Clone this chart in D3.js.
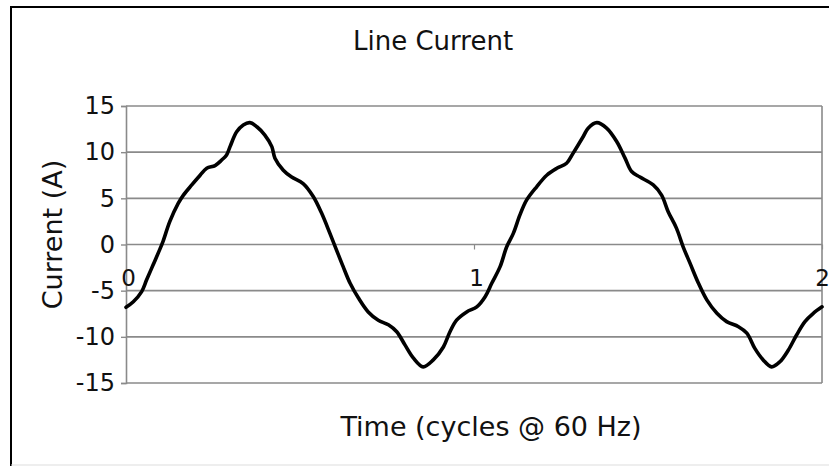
<!DOCTYPE html>
<html>
<head>
<meta charset="utf-8">
<script src="https://cdn.jsdelivr.net/npm/d3@7"></script>
<style>
  html, body { margin: 0; padding: 0; background: #fff; }
  svg { display: block; }
  text { font-family: "DejaVu Sans", Verdana, sans-serif; fill: #111; }
</style>
</head>
<body>
<svg id="chart" width="829" height="466"></svg>
<script>
// Line current over two cycles at 60 Hz
const time = [
  0.000, 0.021, 0.045, 0.059, 0.078, 0.098, 0.107, 0.126, 0.150, 0.165,
  0.189, 0.213, 0.232, 0.256, 0.275, 0.289, 0.299, 0.318, 0.337, 0.356,
  0.376, 0.399, 0.419, 0.428, 0.452, 0.476, 0.509, 0.538, 0.562, 0.586,
  0.605, 0.624, 0.644, 0.668, 0.696, 0.725, 0.754, 0.778, 0.802, 0.826,
  0.854, 0.883, 0.912, 0.931, 0.950, 0.979, 1.008, 1.032, 1.051, 1.075,
  1.094, 1.113, 1.132, 1.151, 1.180, 1.209, 1.238, 1.266, 1.285, 1.314,
  1.328, 1.353, 1.381, 1.410, 1.434, 1.453, 1.477, 1.515, 1.539, 1.558,
  1.582, 1.601, 1.621, 1.645, 1.669, 1.698, 1.726, 1.760, 1.784, 1.807,
  1.831, 1.855, 1.879, 1.903, 1.927, 1.951, 1.975, 2.000
];
const current = [
  -6.8, -6.2, -5.1, -3.85, -2.2, -0.45, 0.4, 2.5, 4.45, 5.35,
  6.45, 7.5, 8.25, 8.55, 9.15, 9.7, 10.6, 12.2, 12.95, 13.2,
  12.75, 11.85, 10.6, 9.35, 8.05, 7.3, 6.6, 5.2, 3.4, 1.2,
  -0.6, -2.4, -4.2, -5.8, -7.3, -8.2, -8.7, -9.45, -10.9, -12.3,
  -13.25, -12.5, -11.1, -9.45, -8.2, -7.3, -6.75, -5.65, -4.2, -2.4,
  -0.25, 1.2, 3.2, 4.8, 6.25, 7.5, 8.25, 8.8, 9.9, 11.7,
  12.6, 13.2, 12.6, 11.15, 9.35, 7.9, 7.3, 6.45, 5.35, 3.55,
  1.75, -0.25, -2.05, -4.2, -6.0, -7.45, -8.35, -8.9, -9.6, -11.25,
  -12.5, -13.25, -12.7, -11.45, -9.8, -8.35, -7.45, -6.75
];
const yTicks = [-15, -10, -5, 0, 5, 10, 15];
const xTicks = [0, 1, 2];

const chartTitle = "Line Current";
const xTitle = "Time (cycles @ 60 Hz)";
const yTitle = "Current (A)";

const svg = d3.select("#chart");
const plot = { left: 126, right: 822, top: 106, bottom: 383 };

const x = d3.scaleLinear().domain([0, 2]).range([plot.left, plot.right]);
const y = d3.scaleLinear().domain([-15, 15]).range([plot.bottom, plot.top]);

// plain hyphen-minus for negative tick labels
const plain = d => String(d);

// outer frame (top and left edges, faint bottom)
svg.append("line").attr("x1", 11).attr("x2", 829).attr("y1", 7).attr("y2", 7)
  .attr("stroke", "#000").attr("stroke-width", 2);
svg.append("line").attr("x1", 11).attr("x2", 11).attr("y1", 6).attr("y2", 466)
  .attr("stroke", "#000").attr("stroke-width", 2);
svg.append("line").attr("x1", 11).attr("x2", 829).attr("y1", 465).attr("y2", 465)
  .attr("stroke", "#ddd").attr("stroke-width", 1);

// horizontal gridlines
svg.append("g")
  .selectAll("line")
  .data(yTicks)
  .join("line")
  .attr("x1", plot.left).attr("x2", plot.right)
  .attr("y1", d => y(d)).attr("y2", d => y(d))
  .attr("stroke", "#8a8a8a").attr("stroke-width", 1.6);

// right edge of the plot area
svg.append("line")
  .attr("x1", plot.right).attr("x2", plot.right)
  .attr("y1", plot.top).attr("y2", plot.bottom)
  .attr("stroke", "#8a8a8a").attr("stroke-width", 1.6);

// y axis
const yAxis = svg.append("g")
  .attr("transform", `translate(${plot.left},0)`)
  .call(d3.axisLeft(y).tickValues(yTicks).tickFormat(plain).tickSize(5).tickPadding(6));
yAxis.select(".domain").attr("stroke", "#8a8a8a").attr("stroke-width", 1.6);
yAxis.selectAll(".tick line").attr("stroke", "#8a8a8a").attr("stroke-width", 1.4);
yAxis.selectAll(".tick text")
  .attr("font-family", "DejaVu Sans, sans-serif")
  .attr("font-size", 24).attr("fill", "#111");

// x axis sits on the zero line
const xAxis = svg.append("g")
  .attr("transform", `translate(0,${y(0)})`)
  .call(d3.axisBottom(x).tickValues(xTicks).tickFormat(plain).tickSize(5).tickPadding(20));
xAxis.select(".domain").remove();
xAxis.selectAll(".tick line").attr("stroke", "#8a8a8a").attr("stroke-width", 1.2);
xAxis.selectAll(".tick text")
  .attr("font-family", "DejaVu Sans, sans-serif")
  .attr("font-size", 23).attr("fill", "#111")
  .attr("dx", d => d === 2 ? 0 : 2);

// current waveform
const line = d3.line()
  .x((d, i) => x(time[i]))
  .y(d => y(d))
  .curve(d3.curveCatmullRom.alpha(0.5));
svg.append("path")
  .datum(current)
  .attr("d", line)
  .attr("fill", "none")
  .attr("stroke", "#000")
  .attr("stroke-width", 3.6)
  .attr("stroke-linejoin", "round")
  .attr("stroke-linecap", "round");

// titles
svg.append("text")
  .attr("x", 353).attr("y", 50)
  .attr("font-size", 26)
  .text(chartTitle);

svg.append("text")
  .attr("x", 491).attr("y", 436)
  .attr("text-anchor", "middle")
  .attr("font-size", 27)
  .text(xTitle);

svg.append("text")
  .attr("transform", `translate(62,${(plot.top + plot.bottom) / 2 - 10}) rotate(-90)`)
  .attr("text-anchor", "middle")
  .attr("font-size", 27)
  .text(yTitle);
</script>
</body>
</html>
